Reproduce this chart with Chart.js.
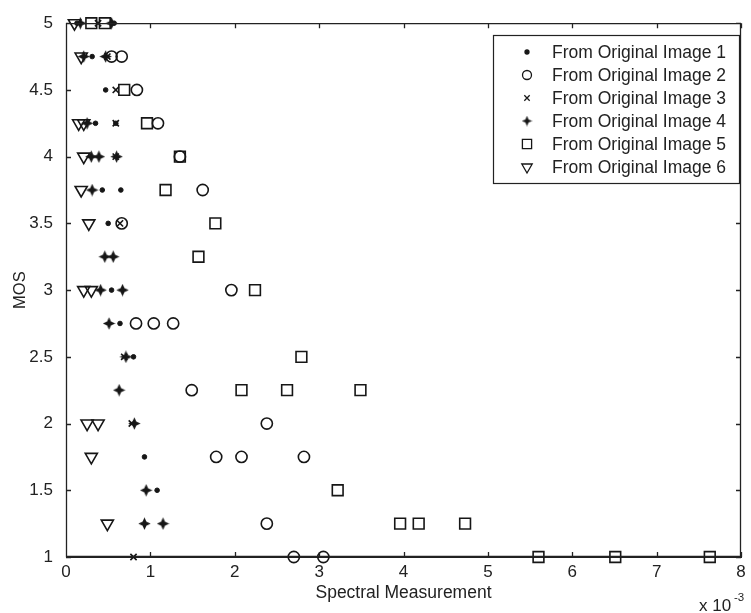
<!DOCTYPE html>
<html>
<head>
<meta charset="utf-8">
<script src="https://cdn.jsdelivr.net/npm/chart.js@4.4.1/dist/chart.umd.min.js"></script>
<style>
  html, body { margin: 0; padding: 0; background: #fff; }
  #wrap { width: 751px; height: 613px; position: relative; }
</style>
</head>
<body>
<div id="wrap"><canvas id="c" width="751" height="613"></canvas></div>
<script>
// Spectral measurement (units of 1e-3) against MOS for the distorted copies of six source images
const img1X = [0.13, 0.57, 0.31, 0.47, 0.35, 0.59, 0.43, 0.65, 0.50, 0.54, 0.64, 0.80, 0.93, 1.08];
const img1Y = [5, 5, 4.75, 4.5, 4.25, 4.25, 3.75, 3.75, 3.5, 3, 2.75, 2.5, 1.75, 1.5];

const img2X = [0.54, 0.66, 0.84, 1.09, 1.35, 1.62, 0.66, 1.96, 0.83, 1.04, 1.27, 1.49, 2.38, 1.78, 2.08, 2.82, 2.38, 2.70, 3.05];
const img2Y = [4.75, 4.75, 4.5, 4.25, 4, 3.75, 3.5, 3, 2.75, 2.75, 2.75, 2.25, 2, 1.75, 1.75, 1.75, 1.25, 1, 1];

const img3X = [0.38, 0.49, 0.59, 0.59, 0.59, 0.64, 0.69, 0.78, 0.80];
const img3Y = [5, 4.75, 4.5, 4.25, 4, 3.5, 2.5, 2, 1];

const img4X = [0.17, 0.54, 0.21, 0.47, 0.25, 0.30, 0.39, 0.60, 0.31, 0.46, 0.56, 0.41, 0.67, 0.51, 0.71, 0.63, 0.81, 0.95, 0.93, 1.15];
const img4Y = [5, 5, 4.75, 4.75, 4.25, 4, 4, 4, 3.75, 3.25, 3.25, 3, 3, 2.75, 2.5, 2.25, 2, 1.5, 1.25, 1.25];

const img5X = [0.30, 0.46, 0.69, 0.96, 1.35, 1.18, 1.77, 1.57, 2.24, 2.79, 2.08, 2.62, 3.49, 3.22, 3.96, 4.18, 4.73, 5.60, 6.51, 7.63];
const img5Y = [5, 5, 4.5, 4.25, 4, 3.75, 3.5, 3.25, 3, 2.5, 2.25, 2.25, 2.25, 1.5, 1.25, 1.25, 1.25, 1, 1, 1];

const img6X = [0.10, 0.18, 0.15, 0.21, 0.21, 0.18, 0.27, 0.21, 0.30, 0.25, 0.38, 0.30, 0.49];
const img6Y = [5, 4.75, 4.25, 4.25, 4, 3.75, 3.5, 3, 3, 2, 2, 1.75, 1.25];

const seriesNames = [
  'From Original Image 1', 'From Original Image 2', 'From Original Image 3',
  'From Original Image 4', 'From Original Image 5', 'From Original Image 6'
];
const xTicks = [0, 1, 2, 3, 4, 5, 6, 7, 8];
const yTicks = [1, 1.5, 2, 2.5, 3, 3.5, 4, 4.5, 5];

const INK = '#161616';
const TEXT = '#222222';
const FONT = '"Liberation Sans", Arial, sans-serif';

// filled four-pointed star used as a marker sprite
function makeStar(size, color, inner) {
  const c = document.createElement('canvas');
  c.width = c.height = size;
  const g = c.getContext('2d');
  const m = size / 2, R = size / 2 - 0.3, r = R * inner;
  g.beginPath();
  for (let i = 0; i < 8; i++) {
    const a = i * Math.PI / 4 - Math.PI / 2;
    const rr = i % 2 ? r : R;
    g.lineTo(m + rr * Math.cos(a), m + rr * Math.sin(a));
  }
  g.closePath();
  g.fillStyle = color;
  g.fill();
  return c;
}
const starSprite = makeStar(13, INK, 0.44);
const starSpriteSmall = makeStar(11, INK, 0.42);

function pts(xs, ys) { return xs.map((x, i) => ({ x: x, y: ys[i] })); }

const markerStyles = [
  { pointStyle: 'circle', pointRadius: 2.3, pointBackgroundColor: INK, pointBorderColor: INK, pointBorderWidth: 1, pointRotation: 0 },
  { pointStyle: 'circle', pointRadius: 5.6, pointBackgroundColor: 'rgba(0,0,0,0)', pointBorderColor: INK, pointBorderWidth: 1.6, pointRotation: 0 },
  { pointStyle: 'crossRot', pointRadius: 4.4, pointBackgroundColor: INK, pointBorderColor: INK, pointBorderWidth: 1.6, pointRotation: 0 },
  { pointStyle: starSprite, pointRadius: 6.5, pointBackgroundColor: INK, pointBorderColor: INK, pointBorderWidth: 1, pointRotation: 0 },
  { pointStyle: 'rect', pointRadius: 7.6, pointBackgroundColor: 'rgba(0,0,0,0)', pointBorderColor: INK, pointBorderWidth: 1.6, pointRotation: 0 },
  { pointStyle: 'triangle', pointRadius: 7, pointBackgroundColor: 'rgba(0,0,0,0)', pointBorderColor: INK, pointBorderWidth: 1.6, pointRotation: 180 }
];

const allX = [img1X, img2X, img3X, img4X, img5X, img6X];
const allY = [img1Y, img2Y, img3Y, img4Y, img5Y, img6Y];

const datasets = seriesNames.map((name, i) => Object.assign({
  label: name,
  data: pts(allX[i], allY[i]),
  showLine: false,
  clip: false,
  pointHoverRadius: markerStyles[i].pointRadius
}, markerStyles[i]));

// box around the axes with inward-pointing ticks on every side
const framePlugin = {
  id: 'frame',
  afterDatasetsDraw(chart) {
    const { ctx, chartArea: a, scales } = chart;
    const tl = 5;
    ctx.save();
    ctx.strokeStyle = '#222';
    ctx.lineWidth = 1.3;
    ctx.beginPath();
    ctx.rect(a.left + 0.5, a.top + 0.5, a.right - a.left - 1, a.bottom - a.top - 1);
    xTicks.forEach(v => {
      const px = Math.round(scales.x.getPixelForValue(v)) + 0.5;
      ctx.moveTo(px, a.bottom); ctx.lineTo(px, a.bottom - tl);
      ctx.moveTo(px, a.top); ctx.lineTo(px, a.top + tl);
    });
    yTicks.forEach(v => {
      const py = Math.round(scales.y.getPixelForValue(v)) + 0.5;
      ctx.moveTo(a.left, py); ctx.lineTo(a.left + tl, py);
      ctx.moveTo(a.right, py); ctx.lineTo(a.right - tl, py);
    });
    ctx.stroke();
    ctx.restore();
  }
};

// legend drawn inside the axes, top right, with a framed white box
const legendPlugin = {
  id: 'boxLegend',
  afterDraw(chart) {
    const { ctx } = chart;
    const box = { x: 493, y: 35, w: 246, h: 148 };
    ctx.save();
    ctx.fillStyle = '#fff';
    ctx.fillRect(box.x, box.y, box.w, box.h);
    ctx.strokeStyle = '#222';
    ctx.lineWidth = 1.2;
    ctx.strokeRect(box.x + 0.5, box.y + 0.5, box.w, box.h);
    ctx.font = '17.5px ' + FONT;
    ctx.fillStyle = TEXT;
    ctx.textBaseline = 'middle';
    ctx.textAlign = 'left';
    const rowH = 23;
    chart.data.datasets.forEach((ds, i) => {
      const cy = box.y + 17 + i * rowH;
      const mx = 527;
      const st = markerStyles[i];
      ctx.save();
      ctx.strokeStyle = st.pointBorderColor;
      ctx.fillStyle = st.pointBackgroundColor;
      ctx.lineWidth = 1.3;
      const style = (i === 3) ? starSpriteSmall : st.pointStyle;
      const radius = (i === 0) ? 2 : (i === 1 ? 4.5 : (i === 4 ? 6.5 : (i === 5 ? 6 : 3.8)));
      Chart.helpers.drawPoint(ctx, { pointStyle: style, rotation: st.pointRotation, radius: radius, borderWidth: 1.3 }, mx, cy);
      ctx.restore();
      ctx.fillStyle = TEXT;
      ctx.fillText(ds.label, 552, cy + 1);
    });
    ctx.restore();
  }
};

// scale multiplier under the right end of the x axis
const exponentPlugin = {
  id: 'exponent',
  afterDraw(chart) {
    const { ctx } = chart;
    ctx.save();
    ctx.fillStyle = TEXT;
    ctx.textBaseline = 'alphabetic';
    ctx.textAlign = 'left';
    ctx.font = '17px ' + FONT;
    ctx.fillText('x 10', 699, 611);
    ctx.font = '11.5px ' + FONT;
    ctx.fillText('-3', 734, 601);
    ctx.restore();
  }
};

new Chart(document.getElementById('c'), {
  type: 'scatter',
  data: { datasets: datasets },
  options: {
    responsive: false,
    animation: false,
    devicePixelRatio: 1,
    layout: { padding: { top: 19, right: 10, left: 0, bottom: 0 } },
    plugins: {
      legend: { display: false },
      tooltip: { enabled: false }
    },
    scales: {
      x: {
        type: 'linear',
        min: 0, max: 8,
        afterBuildTicks(scale) { scale.ticks = xTicks.map(v => ({ value: v })); },
        afterFit(scale) { scale.height = 56; },
        ticks: { color: TEXT, font: { family: FONT, size: 17 }, padding: 5, maxRotation: 0, callback: v => String(v) },
        grid: { display: false, drawTicks: false },
        border: { display: true, color: '#222' },
        title: { display: true, text: 'Spectral Measurement', color: TEXT, font: { family: FONT, size: 17.5 }, padding: { top: 0, bottom: 9 } }
      },
      y: {
        type: 'linear',
        min: 1, max: 5,
        afterBuildTicks(scale) { scale.ticks = yTicks.map(v => ({ value: v })); },
        afterFit(scale) { scale.width = 66; },
        ticks: { color: TEXT, font: { family: FONT, size: 17 }, padding: 13, callback: v => String(v) },
        grid: { display: false, drawTicks: false },
        border: { display: true, color: '#222' },
        title: { display: true, text: 'MOS', color: TEXT, font: { family: FONT, size: 16.5 }, padding: { top: 11, bottom: 0 } }
      }
    }
  },
  plugins: [framePlugin, legendPlugin, exponentPlugin]
});
</script>
</body>
</html>
